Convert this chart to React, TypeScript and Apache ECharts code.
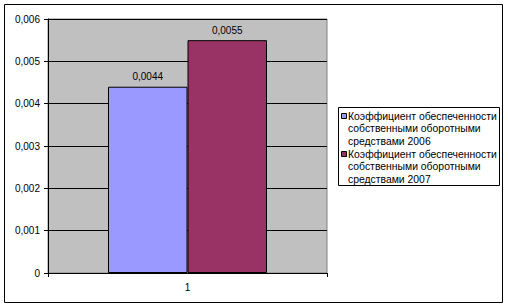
import React, { useEffect, useRef } from "react";
import * as echarts from "echarts";

const categories = ["1"];
const seriesNames = [
  "Коэффициент обеспеченности собственными оборотными средствами 2006",
  "Коэффициент обеспеченности собственными оборотными средствами 2007",
];
const legendLines = [
  ["Коэффициент обеспеченности", "собственными оборотными", "средствами 2006"],
  ["Коэффициент обеспеченности", "собственными оборотными", "средствами 2007"],
];
const values2006 = [0.0044];
const values2007 = [0.0055];
const colors = ["#9999FF", "#993366"];

const FONT = '"Liberation Sans", Arial, sans-serif';

export default function App() {
  const ref = useRef<HTMLDivElement>(null);
  useEffect(() => {
    if (!ref.current) return;
    const chart = echarts.init(ref.current, null, { renderer: "svg" });
    const comma = (v: number) => (v === 0 ? "0" : String(v).replace(".", ","));
    const yFmt = (v: number) => (v === 0 ? "0" : v.toFixed(3).replace(".", ","));
    const legendItems: any[] = [];
    legendLines.forEach((lines, i) => {
      const top = 110 + i * 38;
      legendItems.push({
        type: "rect",
        shape: { x: 341.5, y: top + 3.5, width: 5, height: 5 },
        style: { fill: colors[i], stroke: "#000", lineWidth: 1 },
      });
      legendItems.push({
        type: "text",
        style: {
          x: 348,
          y: top,
          text: lines.join("\n"),
          font: `10.4px ${FONT}`,
          lineHeight: 12.5,
          fill: "#000",
          textVerticalAlign: "top",
          verticalAlign: "top",
        },
      });
    });
    chart.setOption({
      animation: false,
      backgroundColor: "#ffffff",
      textStyle: { fontFamily: FONT },
      graphic: [
        {
          type: "rect",
          shape: { x: 4.5, y: 4.5, width: 498, height: 298 },
          style: { fill: "none", stroke: "#000", lineWidth: 1 },
          silent: true,
        },
        {
          type: "rect",
          shape: { x: 338.5, y: 107.5, width: 161, height: 78 },
          style: { fill: "#fff", stroke: "#000", lineWidth: 1 },
        },
        ...legendItems,
      ],
      grid: {
        left: 48,
        top: 19,
        width: 279,
        height: 254,
        show: true,
        backgroundColor: "#C0C0C0",
        borderColor: "#808080",
        borderWidth: 1,
      },
      xAxis: {
        type: "category",
        data: categories,
        axisLine: { show: true, lineStyle: { color: "#000", width: 1 } },
        axisTick: { show: true, length: 4, lineStyle: { color: "#000" } },
        axisLabel: { color: "#000", fontSize: 10, margin: 9, fontFamily: FONT },
      },
      yAxis: {
        type: "value",
        min: 0,
        max: 0.006,
        interval: 0.001,
        axisLine: { show: true, lineStyle: { color: "#000", width: 1 } },
        axisTick: { show: true, length: 4, lineStyle: { color: "#000" } },
        splitLine: { show: true, lineStyle: { color: "#000", width: 1 } },
        axisLabel: {
          color: "#000",
          fontSize: 10,
          margin: 8,
          fontFamily: FONT,
          formatter: yFmt,
        },
      },
      series: [
        {
          name: seriesNames[0],
          type: "bar",
          data: values2006,
          barGap: "0%",
          barCategoryGap: "43%",
          itemStyle: { color: colors[0], borderColor: "#000", borderWidth: 1 },
          label: {
            show: true,
            position: "top",
            distance: 5,
            color: "#000",
            fontSize: 10,
            fontFamily: FONT,
            formatter: (p: any) => comma(p.value),
          },
        },
        {
          name: seriesNames[1],
          type: "bar",
          data: values2007,
          barGap: "0%",
          barCategoryGap: "43%",
          itemStyle: { color: colors[1], borderColor: "#000", borderWidth: 1 },
          label: {
            show: true,
            position: "top",
            distance: 5,
            color: "#000",
            fontSize: 10,
            fontFamily: FONT,
            formatter: (p: any) => comma(p.value),
          },
        },
      ],
    });
    return () => chart.dispose();
  }, []);
  return (
    <div
      ref={ref}
      style={{ position: "fixed", left: 0, top: 0, width: 508, height: 308 }}
    />
  );
}
